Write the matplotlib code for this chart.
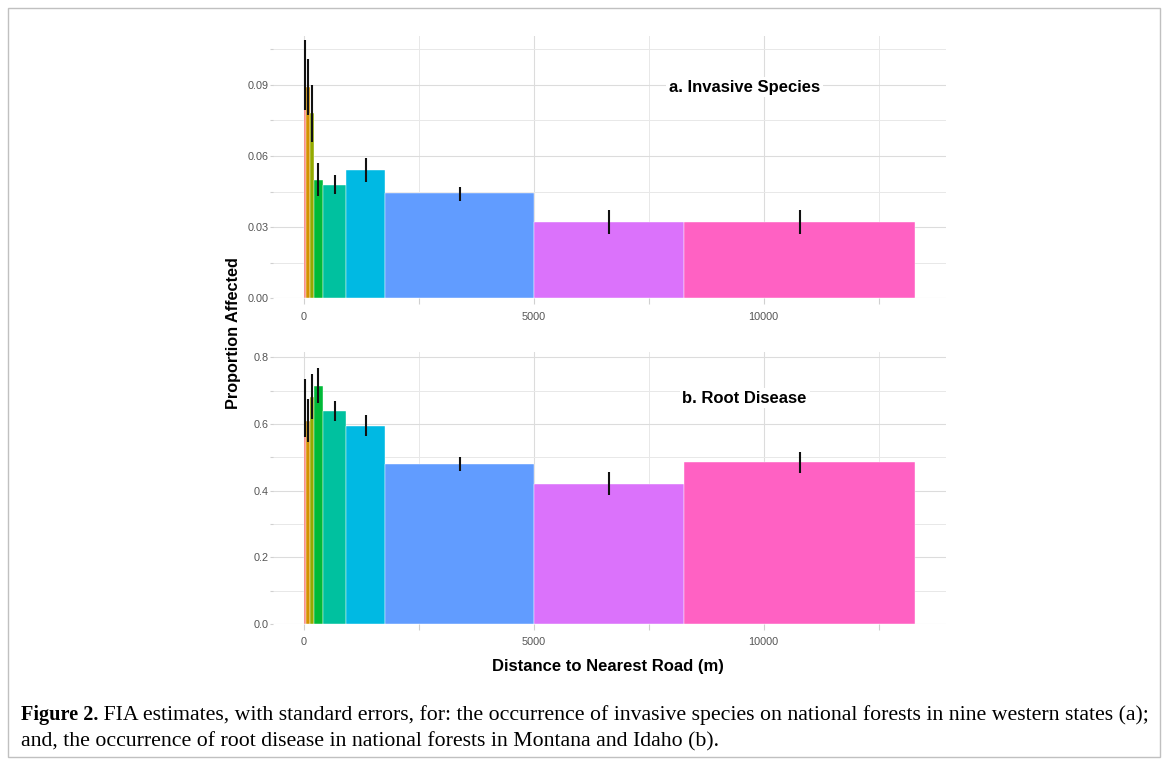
import numpy as np
import matplotlib.pyplot as plt
from matplotlib.patches import Rectangle

# distance bins (m) and ggplot hue colours, one per bin
edges = [0, 50, 140, 220, 420, 930, 1770, 5020, 8270, 13300]
colors = ["#F8766D", "#D39200", "#93AA00", "#00BA38", "#00C19F",
          "#00B9E3", "#619CFF", "#DB72FB", "#FF61C3"]

# a. invasive species: estimate and error bar limits
inv_mean = [0.094, 0.089, 0.078, 0.050, 0.048, 0.054, 0.0444, 0.0322, 0.0322]
inv_lo = [0.0794, 0.0773, 0.066, 0.043, 0.0442, 0.049, 0.041, 0.0272, 0.0272]
inv_hi = [0.109, 0.101, 0.090, 0.057, 0.052, 0.059, 0.047, 0.0373, 0.0373]

# b. root disease
root_mean = [0.572, 0.610, 0.682, 0.714, 0.639, 0.595, 0.480, 0.420, 0.486]
root_lo = [0.560, 0.546, 0.614, 0.662, 0.609, 0.565, 0.460, 0.387, 0.453]
root_hi = [0.735, 0.675, 0.750, 0.767, 0.670, 0.627, 0.500, 0.456, 0.516]

x_major = [0, 5000, 10000]
x_minor = [2500, 7500, 12500]

caption_bold = "Figure 2."
caption_1 = (" FIA estimates, with standard errors, for: the occurrence of invasive "
             "species on national forests in nine western states (a);")
caption_2 = ("and, the occurrence of root disease in national forests in Montana "
             "and Idaho (b).")

SANS = ["Liberation Sans", "DejaVu Sans"]
SERIF = ["Liberation Serif", "DejaVu Serif"]
plt.rcParams['font.family'] = SANS

fig = plt.figure(figsize=(11.68, 7.64), dpi=100)
fig.patches.append(Rectangle((0.007, 0.009), 0.986, 0.981, transform=fig.transFigure,
                             fill=False, edgecolor="#c0c0c0", linewidth=1.0))

ax1 = fig.add_axes([0.2337, 0.6093, 0.5762, 0.3436])
ax2 = fig.add_axes([0.2337, 0.1832, 0.5762, 0.3560])


def draw_panel(ax, mean, lo, hi, ylim, ymaj, ymin, fmt, title, title_y):
    lefts = np.array(edges[:-1])
    widths = np.diff(edges)
    centers = lefts + widths / 2
    ax.bar(lefts, mean, width=widths, align='edge', color=colors,
           edgecolor='white', linewidth=0.3, zorder=2)
    ax.vlines(centers, lo, hi, color='#111111', linewidth=1.5, zorder=3)
    ax.set_xlim(-665, 13965)
    ax.set_ylim(*ylim)
    ax.set_xticks(x_major)
    ax.set_xticks(x_minor, minor=True)
    ax.set_xticklabels([str(v) for v in x_major])
    ax.set_yticks(ymaj)
    ax.set_yticks(ymin, minor=True)
    ax.set_yticklabels([fmt.format(v) for v in ymaj])
    ax.grid(which='major', color='#dcdcdc', linewidth=0.8, zorder=0)
    ax.grid(which='minor', color='#e8e8e8', linewidth=0.7, zorder=0)
    ax.set_axisbelow(True)
    for s in ax.spines.values():
        s.set_visible(False)
    ax.tick_params(which='both', color='#d0d0d0', width=0.8,
                   labelsize=7.8, labelcolor='#555555')
    ax.tick_params(axis='x', which='both', length=4, pad=5.5)
    ax.tick_params(axis='y', which='both', length=2, pad=1)
    ax.text(9586, title_y, title, ha='center', va='center', fontsize=12,
            fontweight='bold', zorder=4,
            bbox=dict(facecolor='white', edgecolor='none', pad=2))


draw_panel(ax1, inv_mean, inv_lo, inv_hi, (0, 0.1106),
           [0, 0.03, 0.06, 0.09], [0.015, 0.045, 0.075, 0.105], "{:.2f}",
           "a. Invasive Species", 0.0891)
draw_panel(ax2, root_mean, root_lo, root_hi, (0, 0.816),
           [0, 0.2, 0.4, 0.6, 0.8], [0.1, 0.3, 0.5, 0.7], "{:.1f}",
           "b. Root Disease", 0.678)

fig.text(0.1995, 0.564, "Proportion Affected", rotation=90, ha='center', va='center',
         fontsize=11.7, fontweight='bold')
fig.text(0.5205, 0.127, "Distance to Nearest Road (m)", ha='center', va='center',
         fontsize=12, fontweight='bold')

# caption: bold lead-in followed by regular text
t0 = fig.text(0.018, 0.057, caption_bold, ha='left', va='baseline', fontsize=14.6,
              fontweight='bold', family=SERIF)
fig.canvas.draw()
bb = t0.get_window_extent(fig.canvas.get_renderer())
fig.text(bb.x1 / fig.bbox.width, 0.057, caption_1, ha='left', va='baseline',
         fontsize=15.65, family=SERIF)
fig.text(0.018, 0.0225, caption_2, ha='left', va='baseline', fontsize=15.65, family=SERIF)

fig.savefig("out.png", dpi=100)
